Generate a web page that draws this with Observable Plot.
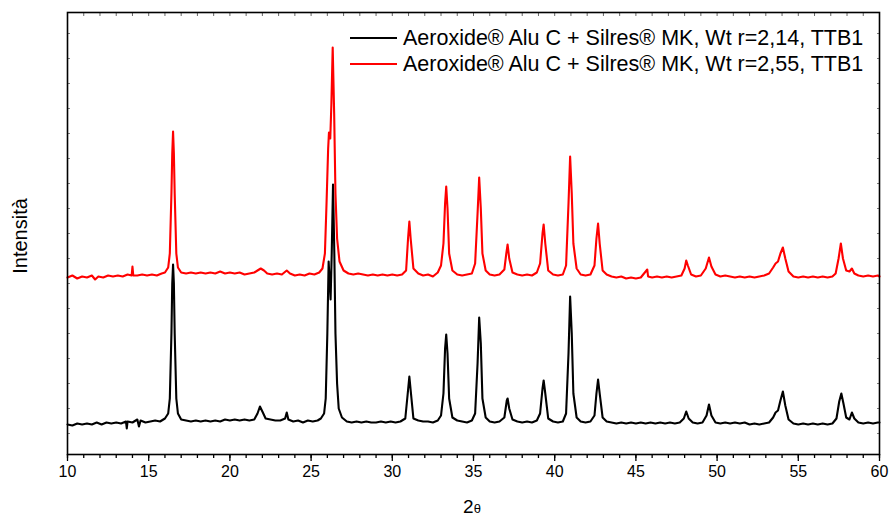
<!DOCTYPE html>
<html><head><meta charset="utf-8">
<script src="https://cdn.jsdelivr.net/npm/d3@7"></script>
<script src="https://cdn.jsdelivr.net/npm/@observablehq/plot@0.6"></script>
<style>
body{margin:0;background:#fff;}
#chart{position:relative;width:889px;height:519px;font-family:"Liberation Sans",Arial,sans-serif;}
.legend{position:absolute;left:350px;top:25px;font-size:21.5px;line-height:26px;color:#000;white-space:nowrap;}
.legend .row{display:flex;align-items:center;height:26px;}
.legend .sw{width:47px;height:0;border-top:2px solid;margin-right:6px;}
</style></head>
<body><div id="chart"></div>
<script>
const seriesNames = [
  "Aeroxide® Alu C + Silres® MK, Wt r=2,14, TTB1",
  "Aeroxide® Alu C + Silres® MK, Wt r=2,55, TTB1"
];
const seriesColors = ["#000000", "#ff0000"];
const xMajorTicks = [10, 15, 20, 25, 30, 35, 40, 45, 50, 55, 60];
const xLabel = ["2", "θ"];
const yLabel = "Intensità";

// [2θ, intensity] (black, r=2,14)
const black = [
[10.0,9],[10.3,8],[10.6,10],[10.9,9],[11.2,10],[11.5,9],[11.8,11],[12.1,9],[12.4,11],[12.7,10],
[13.0,11],[13.3,10],[13.6,12],[13.65,5],[13.7,12],[14.0,11],[14.3,14],[14.4,7],[14.5,13],[14.8,11],
[15.1,12],[15.4,13],[15.7,12],[16.0,15],[16.2,20],[16.3,35],[16.4,100],[16.45,150],[16.5,169],[16.55,150],
[16.6,100],[16.7,35],[16.8,20],[17.0,14],[17.3,13],[17.6,12],[17.9,13],[18.2,12],[18.5,13],[18.8,12],
[19.1,13],[19.4,12],[19.7,14],[20.0,13],[20.3,14],[20.6,13],[20.9,14],[21.2,13],[21.5,14],[21.7,20],
[21.85,27],[22.0,22],[22.2,15],[22.5,14],[22.8,13],[23.1,13],[23.4,15],[23.5,21],[23.6,14],[23.9,12],
[24.2,13],[24.5,11],[24.8,13],[25.1,12],[25.4,13],[25.6,15],[25.8,20],[25.9,35],[26.0,100],[26.08,172],
[26.15,150],[26.2,134],[26.27,180],[26.35,249],[26.43,180],[26.5,100],[26.6,50],[26.7,25],[26.9,16],[27.2,12],
[27.5,11],[27.8,12],[28.1,11],[28.4,12],[28.7,11],[29.0,11],[29.3,12],[29.6,11],[29.9,12],[30.2,11],
[30.5,12],[30.8,15],[30.95,40],[31.05,57],[31.15,40],[31.3,15],[31.6,13],[31.9,12],[32.2,12],[32.5,11],
[32.8,13],[33.0,18],[33.15,40],[33.25,85],[33.32,99],[33.4,80],[33.5,35],[33.7,16],[34.0,13],[34.3,12],
[34.6,11],[34.9,13],[35.1,20],[35.25,70],[35.35,116],[35.45,90],[35.55,35],[35.75,16],[36.0,12],[36.3,11],
[36.6,12],[36.9,16],[37.05,33],[37.1,35],[37.2,25],[37.4,14],[37.7,12],[38.0,11],[38.3,12],[38.6,11],
[38.9,13],[39.1,20],[39.25,45],[39.32,53],[39.42,40],[39.6,15],[39.9,12],[40.2,11],[40.5,12],[40.7,20],
[40.85,80],[40.95,137],[41.05,100],[41.15,40],[41.35,16],[41.6,12],[41.9,11],[42.2,12],[42.45,18],[42.57,40],
[42.67,54],[42.77,40],[42.95,16],[43.2,12],[43.5,11],[43.8,10],[44.1,11],[44.4,10],[44.7,11],[45.0,10],
[45.3,11],[45.6,10],[45.9,11],[46.2,10],[46.5,11],[46.8,10],[47.1,11],[47.4,10],[47.7,11],[47.95,15],
[48.1,22],[48.25,15],[48.5,11],[48.8,10],[49.1,11],[49.35,18],[49.5,29],[49.65,18],[49.9,11],[50.2,10],
[50.5,11],[50.8,10],[51.1,11],[51.4,10],[51.7,11],[52.0,9],[52.3,10],[52.6,9],[52.9,10],[53.2,11],
[53.45,16],[53.6,21],[53.75,23],[53.9,33],[54.05,42],[54.2,28],[54.4,14],[54.7,10],[55.0,9],[55.3,10],
[55.6,9],[55.9,10],[56.2,9],[56.5,10],[56.8,9],[57.1,10],[57.35,15],[57.52,32],[57.65,40],[57.78,30],
[57.95,16],[58.15,14],[58.3,21],[58.45,15],[58.7,11],[59.0,10],[59.3,11],[59.6,10],[59.9,11],[60.0,11]
];

// [2θ, intensity] (red, r=2,55, shown offset)
const red = [
[10.0,156],[10.3,158],[10.6,155],[10.9,157],[11.2,156],[11.5,158],[11.7,154],[11.9,157],[12.2,156],[12.5,158],
[12.8,157],[13.1,158],[13.4,157],[13.7,159],[13.95,158],[14.0,167],[14.05,158],[14.3,158],[14.6,159],[14.9,158],
[15.2,159],[15.5,158],[15.8,160],[16.0,161],[16.2,166],[16.3,180],[16.4,240],[16.45,280],[16.5,302],[16.55,280],
[16.6,240],[16.7,180],[16.8,166],[17.0,161],[17.3,160],[17.6,161],[17.9,160],[18.2,161],[18.5,160],[18.8,161],
[19.1,160],[19.4,162],[19.7,160],[20.0,161],[20.3,160],[20.6,161],[20.9,159],[21.2,160],[21.5,161],[21.7,163],
[21.9,165],[22.1,163],[22.3,160],[22.6,159],[22.9,160],[23.2,159],[23.5,163],[23.7,160],[24.0,158],[24.3,159],
[24.6,158],[24.9,160],[25.2,159],[25.5,161],[25.7,165],[25.85,180],[25.95,230],[26.05,285],[26.1,301],[26.18,295],
[26.25,330],[26.33,386],[26.42,320],[26.5,240],[26.6,195],[26.75,172],[27.0,163],[27.3,160],[27.6,159],[27.9,160],
[28.2,159],[28.5,158],[28.8,159],[29.1,158],[29.4,159],[29.7,158],[30.0,159],[30.3,158],[30.6,159],[30.85,163],
[30.97,195],[31.05,212],[31.13,195],[31.3,165],[31.6,160],[31.9,158],[32.2,159],[32.5,157],[32.8,161],[33.0,168],
[33.15,190],[33.25,230],[33.32,247],[33.4,225],[33.5,180],[33.7,163],[34.0,159],[34.3,158],[34.6,159],[34.9,160],
[35.1,170],[35.25,220],[35.35,256],[35.45,225],[35.55,180],[35.75,163],[36.0,159],[36.3,158],[36.6,159],[36.9,164],
[37.02,180],[37.1,189],[37.2,175],[37.4,161],[37.7,159],[38.0,158],[38.3,159],[38.6,158],[38.9,161],[39.1,170],
[39.25,200],[39.32,209],[39.42,190],[39.6,163],[39.9,159],[40.2,158],[40.5,159],[40.7,168],[40.85,230],[40.95,277],
[41.05,240],[41.15,190],[41.35,165],[41.6,159],[41.9,158],[42.2,159],[42.45,168],[42.57,195],[42.67,210],[42.77,190],
[42.95,163],[43.2,159],[43.5,157],[43.8,156],[44.1,157],[44.4,155],[44.7,156],[45.0,155],[45.3,156],[45.7,164],
[45.75,157],[46.0,156],[46.3,157],[46.6,156],[46.9,157],[47.2,156],[47.5,157],[47.8,158],[48.0,165],[48.1,173],
[48.2,168],[48.4,159],[48.7,157],[49.0,158],[49.3,165],[49.5,176],[49.65,167],[49.9,159],[50.2,157],[50.5,158],
[50.8,157],[51.1,156],[51.4,157],[51.7,156],[52.0,157],[52.3,156],[52.6,157],[52.9,158],[53.2,160],[53.45,166],
[53.6,170],[53.75,172],[53.9,180],[54.05,186],[54.2,175],[54.4,162],[54.7,157],[55.0,156],[55.3,157],[55.6,156],
[55.9,157],[56.2,156],[56.5,157],[56.8,156],[57.1,157],[57.3,160],[57.48,175],[57.62,190],[57.75,175],[57.95,163],
[58.15,162],[58.3,165],[58.45,160],[58.7,158],[59.0,157],[59.3,158],[59.6,157],[59.9,158],[60.0,157]
];

const rows = [
  ...black.map(([x, y]) => ({x, y, s: seriesNames[0]})),
  ...red.map(([x, y]) => ({x, y, s: seriesNames[1]}))
];

const xMinor = d3.range(10, 61, 1);
const yTicks = d3.range(0, 401, 25);

const chart = Plot.plot({
  width: 889, height: 519,
  marginLeft: 67, marginRight: 10, marginTop: 12, marginBottom: 65,
  style: {fontFamily: "'Liberation Sans', Arial, sans-serif", fontSize: "16px", color: "#000", background: "#fff"},
  x: {domain: [10, 60], label: null},
  y: {domain: [-21, 421], label: null},
  color: {domain: seriesNames, range: seriesColors},
  marks: [
    Plot.axisX(xMinor, {anchor: "bottom", tickSize: 4, tickFormat: () => "", label: null, strokeWidth: 1.3}),
    Plot.axisX(xMajorTicks, {anchor: "bottom", tickSize: 7, tickPadding: 4, fontSize: 16, label: null, strokeWidth: 1.3}),
    Plot.axisX(xMinor, {anchor: "top", tickSize: 3, dy: 3, tickFormat: () => "", label: null, strokeOpacity: 0.6}),
    Plot.axisY(yTicks, {anchor: "left", tickSize: 3, dx: 3, tickFormat: () => "", label: null, strokeOpacity: 0.5}),
    Plot.axisY(yTicks, {anchor: "right", tickSize: 3, dx: -3, tickFormat: () => "", label: null, strokeOpacity: 0.5}),
    Plot.line(rows, {x: "x", y: "y", z: "s", stroke: "s", strokeWidth: 2.1}),
    Plot.frame({stroke: "#000", strokeWidth: 1.6})
  ]
});

const host = document.getElementById("chart");
host.appendChild(chart);

const svg = d3.select(chart);
svg.append("text")
  .attr("transform", "translate(27,236) rotate(-90)")
  .attr("text-anchor", "middle")
  .attr("font-size", 20)
  .attr("fill", "#000")
  .text(yLabel);
const xl = svg.append("text")
  .attr("x", 472).attr("y", 513)
  .attr("text-anchor", "middle")
  .attr("fill", "#000");
xl.append("tspan").attr("font-size", 19).text(xLabel[0]);
xl.append("tspan").attr("font-size", 13).text(xLabel[1]);

const legend = d3.select(host).append("div").attr("class", "legend");
seriesNames.forEach((name, i) => {
  const row = legend.append("div").attr("class", "row");
  row.append("span").attr("class", "sw").style("border-top-color", seriesColors[i]);
  row.append("span").text(name);
});
</script>
</body></html>
